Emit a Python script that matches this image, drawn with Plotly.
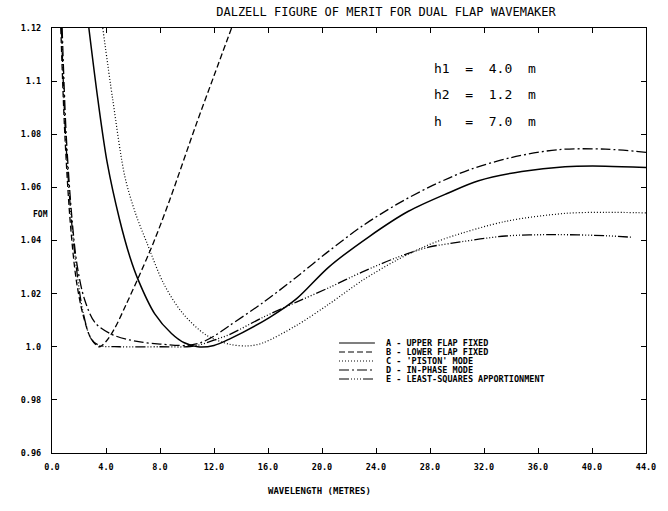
import plotly.graph_objects as go

# ---------------- data ----------------
a_x = [2.73, 3.4, 4.1, 5.0, 5.76, 6.4, 7.6, 8.85, 9.8, 10.8, 12.0, 13.1, 16.1, 18.1, 20.5, 23.5, 26.4, 29.4, 31.6, 34.8, 38.0, 41.0, 44.0]
a_y = [1.12, 1.093, 1.069, 1.048, 1.034, 1.025, 1.0125, 1.005, 1.0015, 1.0, 1.0005, 1.0028, 1.011, 1.018, 1.030, 1.0415, 1.051, 1.058, 1.0625, 1.066, 1.0678, 1.068, 1.0675]

b_x = [0.65, 0.95, 1.35, 1.8, 2.3, 2.9, 3.5, 4.0, 4.65, 5.5, 6.35, 7.5, 8.7, 10.7, 12.0, 13.3]
b_y = [1.12, 1.08, 1.047, 1.025, 1.012, 1.003, 1.0, 1.002, 1.007, 1.016, 1.0255, 1.039, 1.055, 1.084, 1.102, 1.12]

c_x = [3.76, 4.5, 5.4, 6.2, 7.0, 8.3, 9.7, 11.4, 13.1, 14.5, 15.6, 18.1, 20.5, 23.0, 25.5, 27.5, 29.4, 33.6, 38.0, 41.0, 44.0]
c_y = [1.12, 1.093, 1.064, 1.050, 1.0395, 1.0235, 1.0125, 1.0045, 1.001, 1.0003, 1.0014, 1.008, 1.016, 1.025, 1.0325, 1.0375, 1.0412, 1.0472, 1.0502, 1.0506, 1.0504]

d_x = [0.75, 1.05, 1.45, 1.85, 2.4, 3.2, 4.5, 6.3, 8.0, 10.0, 11.0, 12.0, 13.1, 15.6, 18.1, 20.5, 23.0, 25.5, 27.9, 29.4, 31.0, 34.0, 37.5, 41.0, 44.0]
d_y = [1.12, 1.08, 1.05, 1.031, 1.018, 1.009, 1.0045, 1.002, 1.001, 1.0005, 1.0015, 1.004, 1.0078, 1.0165, 1.0262, 1.036, 1.0455, 1.0535, 1.0600, 1.0635, 1.0668, 1.0712, 1.0742, 1.0744, 1.0732]

e_x = [0.7, 1.0, 1.4, 1.8, 2.3, 2.9, 3.5, 5.0, 8.0, 10.0, 11.0, 12.0, 13.1, 15.6, 18.1, 20.5, 23.0, 25.5, 27.9, 29.4, 33.6, 37.3, 41.0, 43.0]
e_y = [1.12, 1.08, 1.05, 1.03, 1.013, 1.003, 1.0005, 1.0, 1.0, 1.0, 1.0008, 1.0025, 1.0045, 1.011, 1.0168, 1.0222, 1.0282, 1.0335, 1.0375, 1.0388, 1.0417, 1.0422, 1.0418, 1.0412]

x_ticks = [0, 4, 8, 12, 16, 20, 24, 28, 32, 36, 40, 44]
x_ticktext = ["0.0", "4.0", "8.0", "12.0", "16.0", "20.0", "24.0", "28.0", "32.0", "36.0", "40.0", "44.0"]
y_ticks = [0.96, 0.98, 1.0, 1.02, 1.04, 1.06, 1.08, 1.1, 1.12]
y_ticktext = ["0.96", "0.98", "1.0", "1.02", "1.04", "1.06", "1.08", "1.1", "1.12"]

series_names = ["A - UPPER FLAP FIXED", "B - LOWER FLAP FIXED", "C - 'PISTON' MODE",
                "D - IN-PHASE MODE", "E - LEAST-SQUARES APPORTIONMENT"]
params = ["h1  =  4.0  m", "h2  =  1.2  m", "h   =  7.0  m"]

# ---------------- styles ----------------
dashes = ["solid", "6px,3px", "1px,2px", "10px,3px,2px,3px", "10px,2px,1px,2px,1px,2px,1px,2px,1px,2px"]
widths = [1.5, 1.3, 1.2, 1.3, 1.3]
FONT = "DejaVu Sans Mono"

fig = go.Figure()
for xs, ys, name, dsh, w in zip([a_x, b_x, c_x, d_x, e_x], [a_y, b_y, c_y, d_y, e_y],
                                series_names, dashes, widths):
    fig.add_trace(go.Scatter(x=xs, y=ys, mode="lines", name=name, showlegend=False,
                             line=dict(color="black", width=w, dash=dsh, shape="spline", smoothing=0.9)))

L, R, T, B = 52, 20, 28, 58
W, H = 668, 511
pw, ph = W - L - R, H - T - B

def px2paper_x(px):
    return (px - L) / pw

def py2paper_y(py):
    return (H - B - py) / ph

# manual legend
shapes = []
annos = []
for i, (name, dsh) in enumerate(zip(series_names, dashes)):
    yy = py2paper_y(343 + i * 9)
    shapes.append(dict(type="line", xref="paper", yref="paper",
                       x0=px2paper_x(340), x1=px2paper_x(376), y0=yy, y1=yy,
                       line=dict(color="black", width=1.2, dash=dsh)))
    annos.append(dict(xref="paper", yref="paper", x=px2paper_x(385), y=yy, text="<b>" + name + "</b>",
                      showarrow=False, xanchor="left", yanchor="middle",
                      font=dict(family=FONT, size=8.5, color="black")))

for i, t in enumerate(params):
    annos.append(dict(xref="paper", yref="paper", x=px2paper_x(433), y=py2paper_y(68 + i * 26.5),
                      text=t, showarrow=False, xanchor="left", yanchor="middle",
                      font=dict(family=FONT, size=13, color="black")))

annos.append(dict(xref="paper", yref="paper", x=px2paper_x(40), y=py2paper_y(214), text="<b>FOM</b>",
                  showarrow=False, xanchor="center", yanchor="middle",
                  font=dict(family=FONT, size=8, color="black")))
annos.append(dict(xref="paper", yref="paper", x=px2paper_x(320), y=py2paper_y(491),
                  text="<b>WAVELENGTH (METRES)</b>", showarrow=False, xanchor="center", yanchor="middle",
                  font=dict(family=FONT, size=9, color="black")))

fig.update_layout(
    width=W, height=H,
    margin=dict(l=L, r=R, t=T, b=B),
    paper_bgcolor="white", plot_bgcolor="white",
    title=dict(text="DALZELL FIGURE OF MERIT FOR DUAL FLAP WAVEMAKER", x=386 / W,
               xanchor="center", y=1 - 12 / H, yanchor="middle", yref="container", xref="container",
               font=dict(family=FONT, size=12, color="black")),
    shapes=shapes, annotations=annos,
    showlegend=False,
)

fig.update_xaxes(range=[0, 44], tickvals=x_ticks, ticktext=x_ticktext, ticks="inside", ticklen=5,
                 tickcolor="black", showline=True, linecolor="black", linewidth=1.3, mirror="ticks",
                 showgrid=False, zeroline=False, ticklabelstandoff=6,
                 tickfont=dict(family=FONT, size=8.5, color="black", weight="bold"))
fig.update_yaxes(range=[0.96, 1.12], tickvals=y_ticks, ticktext=y_ticktext, ticks="inside", ticklen=5,
                 tickcolor="black", showline=True, linecolor="black", linewidth=1.3, mirror="ticks",
                 showgrid=False, zeroline=False, ticklabelstandoff=8,
                 tickfont=dict(family=FONT, size=8.5, color="black", weight="bold"))

fig.write_html("out.html")
